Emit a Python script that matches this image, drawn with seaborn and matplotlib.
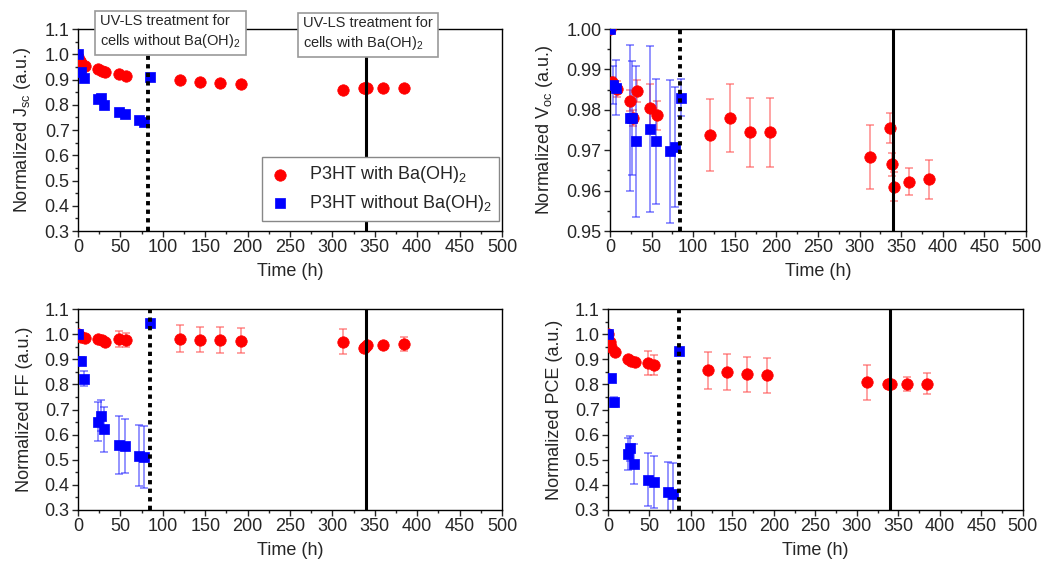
import seaborn as sns
import matplotlib.pyplot as plt
from matplotlib.ticker import MultipleLocator, FormatStrFormatter

# time points (h)
t_with = [0, 2, 4, 8, 24, 28, 32, 48, 56, 120, 144, 168, 192, 312, 337, 339, 341, 360, 384]
t_without = [0, 4, 7, 24, 27, 31, 48, 55, 72, 78, 85]

# Jsc
jsc_with = [0.99, 0.975, 0.965, 0.955, 0.94, 0.932, 0.93, 0.92, 0.915, 0.897, 0.889, 0.886, 0.881,
            0.859, 0.868, 0.868, 0.868, 0.867, 0.867]
jsc_with_err = [0.01] * 19
jsc_without = [1.0, 0.93, 0.905, 0.822, 0.825, 0.80, 0.77, 0.764, 0.74, 0.73, 0.909]
jsc_without_err = [0.01] * 11

# Voc
voc_with = [1.0, 0.987, 0.9862, 0.9852, 0.9823, 0.978, 0.9847, 0.9805, 0.9786, 0.9738, 0.978, 0.9744, 0.9744,
            0.9683, 0.9755, 0.9665, 0.961, 0.9622, 0.9628]
voc_with_err = [0.0, 0.001, 0.001, 0.002, 0.0025, 0.002, 0.0027, 0.0058, 0.0037, 0.009, 0.0085, 0.0085, 0.0085,
                0.008, 0.0037, 0.0028, 0.0035, 0.0034, 0.0048]
voc_without = [1.0, 0.9862, 0.9855, 0.978, 0.978, 0.9722, 0.9752, 0.9722, 0.9697, 0.9708, 0.983]
voc_without_err = [0.0, 0.0047, 0.0068, 0.018, 0.0142, 0.0187, 0.0205, 0.0155, 0.0178, 0.0149, 0.0046]

# FF
ff_with = [1.0, 0.992, 0.99, 0.987, 0.982, 0.978, 0.969, 0.98, 0.978, 0.982, 0.978, 0.977, 0.975,
           0.971, 0.944, 0.948, 0.956, 0.958, 0.962]
ff_with_err = [0.005, 0.005, 0.005, 0.008, 0.008, 0.008, 0.008, 0.032, 0.027, 0.053, 0.05, 0.05, 0.049,
               0.05, 0.01, 0.01, 0.01, 0.01, 0.027]
ff_without = [1.0, 0.893, 0.822, 0.652, 0.676, 0.621, 0.56, 0.556, 0.517, 0.511, 1.043]
ff_without_err = [0.005, 0.015, 0.03, 0.078, 0.063, 0.09, 0.115, 0.108, 0.123, 0.125, 0.01]

# PCE
pce_with = [1.0, 0.97, 0.95, 0.931, 0.902, 0.893, 0.889, 0.886, 0.877, 0.857, 0.85, 0.841, 0.836,
            0.808, 0.802, 0.801, 0.8, 0.8, 0.803]
pce_with_err = [0.005, 0.005, 0.005, 0.008, 0.008, 0.008, 0.008, 0.048, 0.04, 0.074, 0.072, 0.07, 0.069,
                0.07, 0.01, 0.01, 0.01, 0.028, 0.042]
pce_without = [1.0, 0.824, 0.732, 0.523, 0.546, 0.482, 0.42, 0.413, 0.37, 0.363, 0.933]
pce_without_err = [0.005, 0.01, 0.02, 0.063, 0.05, 0.08, 0.106, 0.104, 0.12, 0.125, 0.01]

panels = [
    ("Normalized J$_{\\mathregular{sc}}$ (a.u.)", jsc_with, jsc_with_err, jsc_without, jsc_without_err,
     (0.3, 1.1), 0.1, 0.05, "%.1f", 82, [0.0741, 0.594, 0.4026, 0.355]),
    ("Normalized V$_{\\mathregular{oc}}$ (a.u.)", voc_with, voc_with_err, voc_without, voc_without_err,
     (0.95, 1.0), 0.01, 0.005, "%.2f", 84, [0.5793, 0.594, 0.395, 0.355]),
    ("Normalized FF (a.u.)", ff_with, ff_with_err, ff_without, ff_without_err,
     (0.3, 1.1), 0.1, 0.05, "%.1f", 85.3, [0.0741, 0.1037, 0.4026, 0.353]),
    ("Normalized PCE (a.u.)", pce_with, pce_with_err, pce_without, pce_without_err,
     (0.3, 1.1), 0.1, 0.05, "%.1f", 85.8, [0.5774, 0.1037, 0.394, 0.353]),
]

sns.set_theme(style="ticks")
plt.rcParams['font.family'] = ['Liberation Sans', 'DejaVu Sans']
plt.rcParams['mathtext.fontset'] = 'custom'
plt.rcParams['mathtext.rm'] = 'Liberation Sans'
plt.rcParams['mathtext.default'] = 'regular'

fig = plt.figure(figsize=(10.53, 5.69), dpi=100)

red = "#ff0000"
blue = "#0000ff"

for i, (ylabel, yw, ew, yo, eo, ylim, major, minor, fmt, dash_x, pos) in enumerate(panels):
    ax = fig.add_axes(pos)

    ax.errorbar(t_with, yw, yerr=ew, fmt="none", ecolor=(1, 0.3, 0.3, 0.6), elinewidth=1.2,
                capsize=3, capthick=1.2, zorder=2)
    ax.errorbar(t_without, yo, yerr=eo, fmt="none", ecolor=(0.1, 0.1, 1, 0.55), elinewidth=1.2,
                capsize=3, capthick=1.2, zorder=2)
    sns.scatterplot(x=t_with, y=yw, ax=ax, color=red, marker="o", s=68, edgecolor=red,
                    linewidth=0.5, zorder=3, label="P3HT with Ba(OH)$_2$")
    sns.scatterplot(x=t_without, y=yo, ax=ax, color=blue, marker="s", s=58, edgecolor=blue,
                    linewidth=0.5, zorder=4, label="P3HT without Ba(OH)$_2$")

    ax.axvline(dash_x, color="black", linestyle=(0, (1.1, 1.1)), linewidth=2.8, zorder=5)
    ax.axvline(340, color="black", linestyle="-", linewidth=2.2, zorder=5)

    ax.set_xlim(0, 500)
    ax.set_ylim(*ylim)
    ax.xaxis.set_major_locator(MultipleLocator(50))
    ax.xaxis.set_minor_locator(MultipleLocator(25))
    ax.yaxis.set_major_locator(MultipleLocator(major))
    ax.yaxis.set_minor_locator(MultipleLocator(minor))
    ax.yaxis.set_major_formatter(FormatStrFormatter(fmt))
    ax.tick_params(which="major", direction="out", length=4, width=1, labelsize=13,
                   top=False, right=False, pad=2)
    ax.tick_params(which="minor", direction="out", length=2.5, width=1, top=False, right=False)
    for sp in ax.spines.values():
        sp.set_visible(True)
        sp.set_color("black")
        sp.set_linewidth(1)
    ax.set_xlabel("Time (h)", fontsize=13, labelpad=5)
    ax.set_ylabel(ylabel, fontsize=13, labelpad=8)

    if i == 0:
        ax.legend(loc="lower right", bbox_to_anchor=(0.993, 0.05), fontsize=13, frameon=True,
                  fancybox=False, edgecolor="#888888", framealpha=1, handlelength=1.2,
                  handletextpad=1.0, borderpad=0.4, labelspacing=0.4, borderaxespad=0)
        box = dict(boxstyle="square,pad=0.35", facecolor="white", edgecolor="#999999", linewidth=1.2)
        ax.text(0.052, 1.072, "UV-LS treatment for\ncells without Ba(OH)$_2$", transform=ax.transAxes,
                fontsize=10.5, va="top", ha="left", bbox=box, zorder=10, linespacing=1.3)
        ax.text(0.530, 1.062, "UV-LS treatment for\ncells with Ba(OH)$_2$", transform=ax.transAxes,
                fontsize=10.5, va="top", ha="left", bbox=box, zorder=10, linespacing=1.3)
    else:
        ax.get_legend().remove()

fig.savefig("out.png", dpi=100)
